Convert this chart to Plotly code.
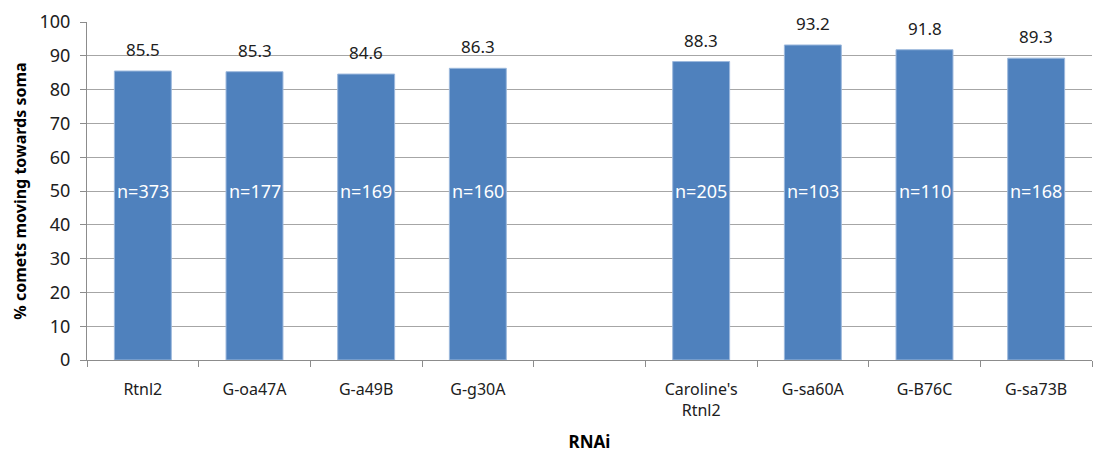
import plotly.graph_objects as go

# RNAi conditions (a blank slot separates the two groups)
categories = ["Rtnl2", "G-oa47A", "G-a49B", "G-g30A", " ",
              "Caroline's<br>Rtnl2", "G-sa60A", "G-B76C", "G-sa73B"]
percent_toward_soma = [85.5, 85.3, 84.6, 86.3, None, 88.3, 93.2, 91.8, 89.3]
n_comets = [373, 177, 169, 160, None, 205, 103, 110, 168]

BAR_COLOR = "#4F81BD"
FONT = "Noto Sans"

fig = go.Figure()
fig.add_trace(go.Bar(
    x=categories,
    y=percent_toward_soma,
    marker=dict(color=BAR_COLOR, line=dict(color="#9DB9DD", width=1)),
    hoverinfo="skip",
))

for cat, v, n in zip(categories, percent_toward_soma, n_comets):
    if v is None:
        continue
    # percentage written above the bar
    fig.add_annotation(x=cat, y=v, text=f"{v:.1f}", showarrow=False,
                       font=dict(family=FONT, size=17, color="#202020"),
                       xanchor="center", yanchor="bottom", yshift=8)
    # sample size written inside the bar
    fig.add_annotation(x=cat, y=50, text=f"n={n}", showarrow=False,
                       font=dict(family=FONT, size=18, color="white"),
                       xanchor="center", yanchor="middle")

fig.update_layout(
    width=1096, height=453,
    margin=dict(l=87, r=4, t=22, b=93),
    paper_bgcolor="white", plot_bgcolor="white",
    bargap=0.49,
    showlegend=False,
    font=dict(family=FONT, color="#202020"),
)
fig.update_xaxes(
    type="category",
    automargin=False,
    tickson="boundaries",
    ticks="outside", ticklen=6, tickcolor="#8C8C8C",
    showline=True, linecolor="#8C8C8C", linewidth=1,
    tickfont=dict(family=FONT, size=16, color="#202020"),
    ticklabelstandoff=15,
    title=dict(text="<b>RNAi</b>", font=dict(family=FONT, size=17, color="#000000"),
               standoff=23),
    showgrid=False,
)
fig.update_yaxes(
    range=[0, 100], dtick=10,
    automargin=False,
    ticks="outside", ticklen=6, tickcolor="#8C8C8C",
    showline=True, linecolor="#8C8C8C", linewidth=1,
    showgrid=True, gridcolor="#A6A6A6", gridwidth=1,
    tickfont=dict(family=FONT, size=18, color="#202020"),
    ticklabelstandoff=6,
    title=dict(text="<b>% comets moving towards soma</b>",
               font=dict(family=FONT, size=16, color="#000000"), standoff=8),
    zeroline=False,
)

fig.write_html("out.html")
